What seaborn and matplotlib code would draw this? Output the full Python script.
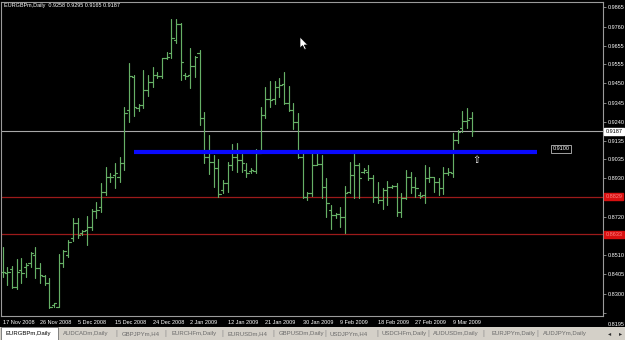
import numpy as np
import pandas as pd
import matplotlib
matplotlib.use("Agg")
import matplotlib.pyplot as plt
import matplotlib.transforms as mtransforms
from matplotlib.patches import Rectangle, Polygon
import seaborn as sns

# ---------------- data ----------------
opens = [
    0.8418, 0.8411, 0.8435, 0.8338, 0.8429, 0.8448, 0.8466, 0.8511, 0.8438, 0.8396,
    0.8356, 0.8238, 0.8228, 0.8466, 0.8511, 0.8603, 0.8688, 0.8630, 0.8648, 0.8666,
    0.8753, 0.8775, 0.8857, 0.8936, 0.8949, 0.8939, 0.9013, 0.9304, 0.9485, 0.9315,
    0.9332, 0.9414, 0.9457, 0.9496, 0.9490, 0.9589, 0.9614, 0.9687, 0.9775, 0.9496,
    0.9496, 0.9545, 0.9616, 0.9261, 0.9049, 0.9020, 0.8985, 0.8867, 0.8905, 0.9003,
    0.9047, 0.9031, 0.8976, 0.8971, 0.8971, 0.9069, 0.9277, 0.9364, 0.9364, 0.9430,
    0.9446, 0.9343, 0.9304, 0.9239, 0.9049, 0.8830, 0.8850, 0.9003, 0.9009, 0.8883,
    0.8757, 0.8730, 0.8736, 0.8719, 0.8856, 0.8949, 0.9003, 0.8965, 0.8965, 0.8932,
    0.8828, 0.8812, 0.8867, 0.8885, 0.8889, 0.8748, 0.8823, 0.8938, 0.8883, 0.8839,
    0.8839, 0.8932, 0.8938, 0.8910, 0.8878, 0.8960, 0.8960, 0.9140, 0.9206, 0.9244,
    0.9258]
highs = [
    0.8557, 0.8447, 0.8453, 0.8489, 0.8493, 0.8466, 0.8526, 0.8557, 0.8469, 0.8402,
    0.8384, 0.8250, 0.8515, 0.8539, 0.8593, 0.8715, 0.8712, 0.8648, 0.8726, 0.8763,
    0.8803, 0.8907, 0.8994, 0.8958, 0.9013, 0.9046, 0.9322, 0.9560, 0.9496, 0.9337,
    0.9523, 0.9496, 0.9539, 0.9512, 0.9590, 0.9623, 0.9800, 0.9800, 0.9782, 0.9505,
    0.9645, 0.9600, 0.9633, 0.9295, 0.9168, 0.9058, 0.9035, 0.8921, 0.9022, 0.9117,
    0.9122, 0.9064, 0.9013, 0.8985, 0.9089, 0.9322, 0.9428, 0.9465, 0.9465, 0.9478,
    0.9514, 0.9436, 0.9344, 0.9286, 0.9071, 0.8857, 0.9071, 0.9075, 0.9058, 0.8931,
    0.8785, 0.8739, 0.8772, 0.8889, 0.9022, 0.9067, 0.9013, 0.8985, 0.9003, 0.8949,
    0.8912, 0.8876, 0.8918, 0.8894, 0.8907, 0.8852, 0.8976, 0.8967, 0.8936, 0.8857,
    0.9003, 0.8991, 0.8939, 0.8931, 0.8991, 0.8985, 0.9180, 0.9195, 0.9299, 0.9314,
    0.9295]
lows = [
    0.8392, 0.8347, 0.8329, 0.8324, 0.8356, 0.8392, 0.8447, 0.8384, 0.8356, 0.8347,
    0.8220, 0.8228, 0.8225, 0.8447, 0.8502, 0.8590, 0.8603, 0.8621, 0.8566, 0.8648,
    0.8712, 0.8748, 0.8839, 0.8912, 0.8876, 0.8912, 0.8976, 0.9240, 0.9271, 0.9299,
    0.9315, 0.9381, 0.9430, 0.9479, 0.9478, 0.9583, 0.9587, 0.9669, 0.9468, 0.9474,
    0.9426, 0.9486, 0.9222, 0.9013, 0.8953, 0.8885, 0.8830, 0.8852, 0.8857, 0.8976,
    0.8967, 0.8965, 0.8939, 0.8960, 0.8958, 0.9067, 0.9262, 0.9322, 0.9335, 0.9377,
    0.9337, 0.9300, 0.9199, 0.9040, 0.8821, 0.8812, 0.8834, 0.9003, 0.8821, 0.8721,
    0.8652, 0.8712, 0.8666, 0.8630, 0.8852, 0.8821, 0.8821, 0.8958, 0.8921, 0.8803,
    0.8794, 0.8763, 0.8785, 0.8876, 0.8725, 0.8717, 0.8820, 0.8849, 0.8827, 0.8821,
    0.8797, 0.8912, 0.8857, 0.8839, 0.8845, 0.8949, 0.8939, 0.9125, 0.9186, 0.9204,
    0.9165]
closes = [
    0.8420, 0.8420, 0.8338, 0.8420, 0.8411, 0.8455, 0.8520, 0.8438, 0.8402, 0.8356,
    0.8229, 0.8247, 0.8466, 0.8535, 0.8584, 0.8688, 0.8621, 0.8644, 0.8666, 0.8753,
    0.8757, 0.8857, 0.8936, 0.8940, 0.8958, 0.9013, 0.9286, 0.9490, 0.9321, 0.9332,
    0.9414, 0.9457, 0.9496, 0.9490, 0.9589, 0.9596, 0.9697, 0.9775, 0.9569, 0.9490,
    0.9545, 0.9594, 0.9261, 0.9049, 0.9020, 0.8985, 0.8845, 0.8907, 0.9003, 0.9049,
    0.9031, 0.9014, 0.8960, 0.8976, 0.9067, 0.9277, 0.9363, 0.9359, 0.9430, 0.9441,
    0.9343, 0.9304, 0.9240, 0.9049, 0.8830, 0.8850, 0.9003, 0.9009, 0.8883, 0.8796,
    0.8730, 0.8736, 0.8719, 0.8849, 0.8949, 0.9003, 0.8932, 0.8976, 0.8932, 0.8830,
    0.8812, 0.8867, 0.8885, 0.8889, 0.8748, 0.8821, 0.8939, 0.8885, 0.8878, 0.8834,
    0.8931, 0.8938, 0.8912, 0.8878, 0.8958, 0.8964, 0.9140, 0.9184, 0.9244, 0.9250,
    0.9187]

date_labels = ["17 Nov 2008", "26 Nov 2008", "5 Dec 2008", "15 Dec 2008", "24 Dec 2008",
               "2 Jan 2009", "12 Jan 2009", "21 Jan 2009", "30 Jan 2009", "9 Feb 2009",
               "18 Feb 2009", "27 Feb 2009", "9 Mar 2009"]
date_label_bars = [0, 8, 16, 24, 32, 40, 48, 56, 64, 72, 80, 88, 96]

price_ticks = [0.9865, 0.9760, 0.9655, 0.9555, 0.9450, 0.9345, 0.9240, 0.9135, 0.9035,
               0.8930, 0.8825, 0.8720, 0.8615, 0.8510, 0.8405, 0.8300, 0.8195]
# tick labels hidden under the red level boxes
hidden_tick_labels = [0.8825, 0.8615]

title_text = "EURGBPm,Daily  0.9258 0.9295 0.9165 0.9187"
last_price = 0.9187
blue_level = 0.9076
blue_start_bar, blue_end_bar = 28, 114
blue_label = "0.9100"
red_levels = [0.8830, 0.8624]
red_labels = ["0.8829", "0.8633"]
arrow_bar, arrow_price = 101, 0.9031

tabs = ["EURGBPm,Daily", "AUDCADm,Daily", "GBPJPYm,H4", "EURCHFm,Daily", "EURUSDm,H4",
        "GBPUSDm,Daily", "USDJPYm,H4", "USDCHFm,Daily", "AUDUSDm,Daily", "EURJPYm,Daily",
        "AUDJPYm,Daily"]

# ---------------- build segments ----------------
rows = []
for i, (o, h, l, c) in enumerate(zip(opens, highs, lows, closes)):
    rows += [(f"hl{i}", i, l), (f"hl{i}", i, h)]
    rows += [(f"o{i}", i - 0.5, o), (f"o{i}", i, o)]
    rows += [(f"c{i}", i, c), (f"c{i}", i + 0.5, c)]
seg = pd.DataFrame(rows, columns=["seg", "x", "y"])

# ---------------- figure ----------------
sns.set_theme(style="dark")
plt.rcParams["font.family"] = ["Liberation Sans", "DejaVu Sans"]

W, H = 625, 340
fig = plt.figure(figsize=(W / 100, H / 100), dpi=100, facecolor="black")

def px(x, y):
    return (x / W, 1 - y / H)

ax = fig.add_axes([1 / W, 1 - 316 / H, 602 / W, 314 / H])
ax.set_facecolor("black")

green = "#66b066"
sns.lineplot(data=seg, x="x", y="y", units="seg", estimator=None, sort=False,
             color=green, linewidth=0.85, ax=ax, legend=False)

ax.set_xlim(-0.32, 128.0)
ax.set_ylim(0.8178, 0.9895)
ax.set_xlabel("")
ax.set_ylabel("")
ax.grid(False)

for s in ax.spines.values():
    s.set_color("#9a9a9a")
    s.set_linewidth(0.8)

# right price axis
ax.yaxis.tick_right()
ax.set_yticks(price_ticks)
ax.set_yticklabels(["" if v in hidden_tick_labels else f"{v:.4f}" for v in price_ticks])
ax.tick_params(axis="y", colors="#9a9a9a", labelcolor="white", labelsize=4,
               length=2, width=0.6, pad=1.5, direction="out")
# bottom time axis
ax.set_xticks(date_label_bars)
ax.set_xticklabels(date_labels)
ax.tick_params(axis="x", colors="#9a9a9a", labelcolor="white", labelsize=4,
               length=2, width=0.6, pad=1.2, direction="out")
for lab in ax.get_xticklabels():
    lab.set_ha("left")

# bottom price label drawn just below the frame like in the terminal
ylabs = ax.get_yticklabels()
ylabs[-1].set_transform(ylabs[-1].get_transform() +
                        mtransforms.ScaledTranslation(0, -0.11, fig.dpi_scale_trans))

# level lines
ax.axhline(last_price, color="#a8a8a8", lw=0.8, zorder=1)
for lv in red_levels:
    ax.axhline(lv, color="#9c1a1a", lw=0.9, zorder=1)
ax.hlines(blue_level, blue_start_bar, blue_end_bar, color="#0a0aff", lw=3.0, zorder=3)

trans_r = mtransforms.blended_transform_factory(ax.transAxes, ax.transData)
ax.text(1.004, last_price, f"{last_price:.4f}", transform=trans_r, fontsize=4,
        color="black", va="center", ha="left", zorder=10, clip_on=False,
        bbox=dict(boxstyle="square,pad=0.2", fc="white", ec="white"))
for lv, lab in zip(red_levels, red_labels):
    ax.text(1.004, lv, lab, transform=trans_r, fontsize=4, color="#ff8080",
            va="center", ha="left", zorder=10, clip_on=False,
            bbox=dict(boxstyle="square,pad=0.2", fc="#d81010", ec="#d81010"))

ax.text(117.3, blue_level + 0.0017, blue_label, fontsize=4, color="white",
        va="center", ha="left", zorder=10,
        bbox=dict(boxstyle="square,pad=0.25", fc="black", ec="#bbbbbb", lw=0.6))

ax.text(arrow_bar, arrow_price, "\u21e7", fontsize=7, color="white",
        family="DejaVu Sans", ha="center", va="center", zorder=10)

# title
fig.text(*px(4, 6), title_text, fontsize=4, color="white", va="center", ha="left")

# mouse cursor
cur = np.array([(0, 0), (0, 11), (2.6, 8.6), (4.6, 12.6), (6.2, 11.9), (4.3, 8.0), (7.8, 8.0)])
cur_pts = [px(300 + a, 37 + b) for a, b in cur]
fig.patches.append(Polygon(cur_pts, closed=True, transform=fig.transFigure,
                           fc="white", ec="black", lw=0.5, zorder=20))

# tab bar
fig.patches.append(Rectangle((0, 0), 1, 13.5 / H, transform=fig.transFigure,
                             fc="#d4d0c8", ec="none", zorder=5))
fig.patches.append(Rectangle(px(1, 340), 57 / W, 13 / H, transform=fig.transFigure,
                             fc="white", ec="#707070", lw=0.6, zorder=6))
tab_x = [5, 63, 122, 171, 227, 279, 330, 382, 433, 492, 543]
sep_x = [116, 165, 222, 273, 325, 377, 428, 483, 537]
for k, (t, tx) in enumerate(zip(tabs, tab_x)):
    fig.text(*px(tx, 333.5), t, fontsize=4.3, color="black" if k == 0 else "#6a6a6a",
             va="center", ha="left", zorder=7)
for sx in sep_x:
    fig.text(*px(sx, 333.5), "|", fontsize=5, color="#8a8a8a", va="center",
             ha="center", zorder=7)
fig.text(*px(610, 333.5), "\u25c2", fontsize=4.5, color="#303030", va="center",
         ha="center", family="DejaVu Sans", zorder=7)
fig.text(*px(621, 333.5), "\u25b8", fontsize=4.5, color="#303030", va="center",
         ha="center", family="DejaVu Sans", zorder=7)

fig.savefig("out.png", dpi=100, facecolor="black")
